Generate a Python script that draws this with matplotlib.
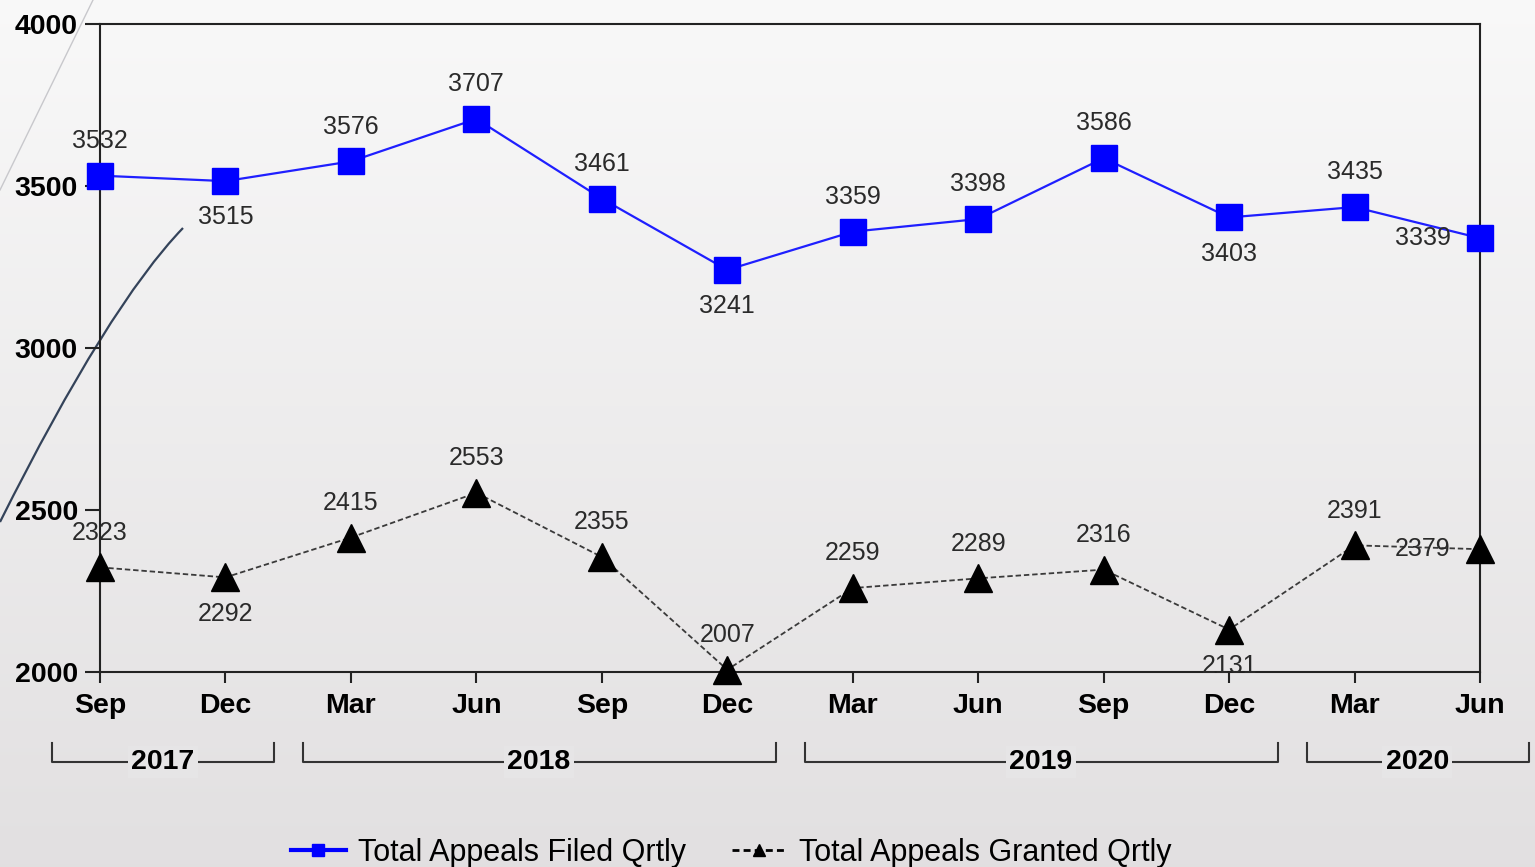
import numpy as np
import matplotlib.pyplot as plt
from matplotlib.lines import Line2D
from matplotlib.path import Path
from matplotlib.patches import PathPatch
import matplotlib.transforms as mtransforms

plt.rcParams["font.family"] = ["Liberation Sans", "DejaVu Sans"]

MONTHS = ["Sep", "Dec", "Mar", "Jun", "Sep", "Dec", "Mar", "Jun", "Sep", "Dec", "Mar", "Jun"]
FILED = [3532, 3515, 3576, 3707, 3461, 3241, 3359, 3398, 3586, 3403, 3435, 3339]
GRANTED = [2323, 2292, 2415, 2553, 2355, 2007, 2259, 2289, 2316, 2131, 2391, 2379]
YEARS = ["2017", "2018", "2019", "2020"]
YEAR_SPANS = [(0, 1), (2, 5), (6, 9), (10, 11)]  # first / last quarter index of each year
Y_TICKS = [2000, 2500, 3000, 3500, 4000]

# where each value label sits relative to its marker
FILED_POS = ["up", "down", "up", "up", "up", "down", "up", "up", "up", "down", "up", "left"]
GRANTED_POS = ["up", "down", "up", "up", "up", "up", "up", "up", "up", "down", "up", "left"]

W, H = 1535, 867
fig = plt.figure(figsize=(W / 100, H / 100), dpi=100)

# slide background gradient
bg = fig.add_axes([0, 0, 1, 1], zorder=-10)
grad = np.linspace(0, 1, 256).reshape(-1, 1)
top_c = np.array([0.975, 0.975, 0.975])
bot_c = np.array([0.886, 0.878, 0.882])
img = top_c + (bot_c - top_c) * grad[..., None]
bg.imshow(img, aspect="auto", extent=[0, 1, 0, 1], origin="upper")
bg.set_xlim(0, 1)
bg.set_ylim(0, 1)
bg.axis("off")

# decorative slide strokes on the left
bg.plot([0 / W, 93 / W], [1 - 190 / H, 1.0], color="#c8c8cc", lw=1.0)
p0, c, p2 = (183, 228), (108.5, 305), (0, 522)
arc = Path([(p0[0] / W, 1 - p0[1] / H), (c[0] / W, 1 - c[1] / H), (p2[0] / W, 1 - p2[1] / H)],
           [Path.MOVETO, Path.CURVE3, Path.CURVE3])
bg.add_patch(PathPatch(arc, fill=False, edgecolor="#34435a", lw=1.6))

ax = fig.add_axes([100 / W, 1 - 672 / H, 1380 / W, 648 / H])
ax.patch.set_alpha(0)

x = np.arange(len(MONTHS))
ax.plot(x, FILED, color="#1f1fff", lw=1.6, marker="s", ms=19, mfc="#0000ff", mec="#0000ff",
        clip_on=False, zorder=4)
ax.plot(x, GRANTED, color="#3a3a3a", lw=1.3, ls=(0, (3, 1.6)), marker="^", ms=20,
        mfc="black", mec="black", clip_on=False, zorder=4)

offsets = {"up": (0, 25), "down": (0, -26), "left": (-41, 0)}
for series, pos in ((FILED, FILED_POS), (GRANTED, GRANTED_POS)):
    for i, (v, p) in enumerate(zip(series, pos)):
        ax.annotate(str(v), (x[i], v), xytext=offsets[p], textcoords="offset points",
                    ha="center", va="center", fontsize=18, color="#2a2a2a", zorder=5)

ax.set_xlim(0, len(MONTHS) - 1)
ax.set_ylim(2000, 4000)
ax.set_yticks(Y_TICKS)
ax.set_yticklabels([str(t) for t in Y_TICKS], fontweight="bold", fontsize=20.5)
ax.set_xticks(x)
ax.set_xticklabels(MONTHS, fontweight="bold", fontsize=20.5)
ax.tick_params(axis="y", length=11, width=1.5, pad=5, color="#222222")
ax.tick_params(axis="x", length=8, width=1.5, pad=7, color="#222222")
for s in ax.spines.values():
    s.set_linewidth(1.5)
    s.set_color("#222222")

# year brackets under the month labels
trans = mtransforms.blended_transform_factory(ax.transData, ax.transAxes)
y_line = -90 / 648
y_top = -71 / 648
for yr, (a, b) in zip(YEARS, YEAR_SPANS):
    x0, x1 = a - 0.38, b + 0.39
    ax.plot([x0, x0, x1, x1], [y_top, y_line, y_line, y_top], transform=trans,
            color="#333333", lw=1.5, clip_on=False)
    ax.text((a + b) / 2, y_line, yr, transform=trans, ha="center", va="center",
            fontsize=20.5, fontweight="bold",
            bbox=dict(boxstyle="square,pad=0.12", fc="#e6e5e6", ec="none"))

handles = [
    Line2D([], [], color="#0000ff", lw=3, marker="s", ms=8),
    Line2D([], [], color="black", lw=2, ls=(0, (2.5, 1.5)), marker="^", ms=8),
]
fig.legend(handles, ["Total Appeals Filed Qrtly", "Total Appeals Granted Qrtly"],
           loc="center", bbox_to_anchor=(731 / W, 1 - 853 / H), ncol=2, frameon=False,
           fontsize=22, handlelength=1.8, columnspacing=1.5, handletextpad=0.4)

fig.savefig("out.png", dpi=100)
